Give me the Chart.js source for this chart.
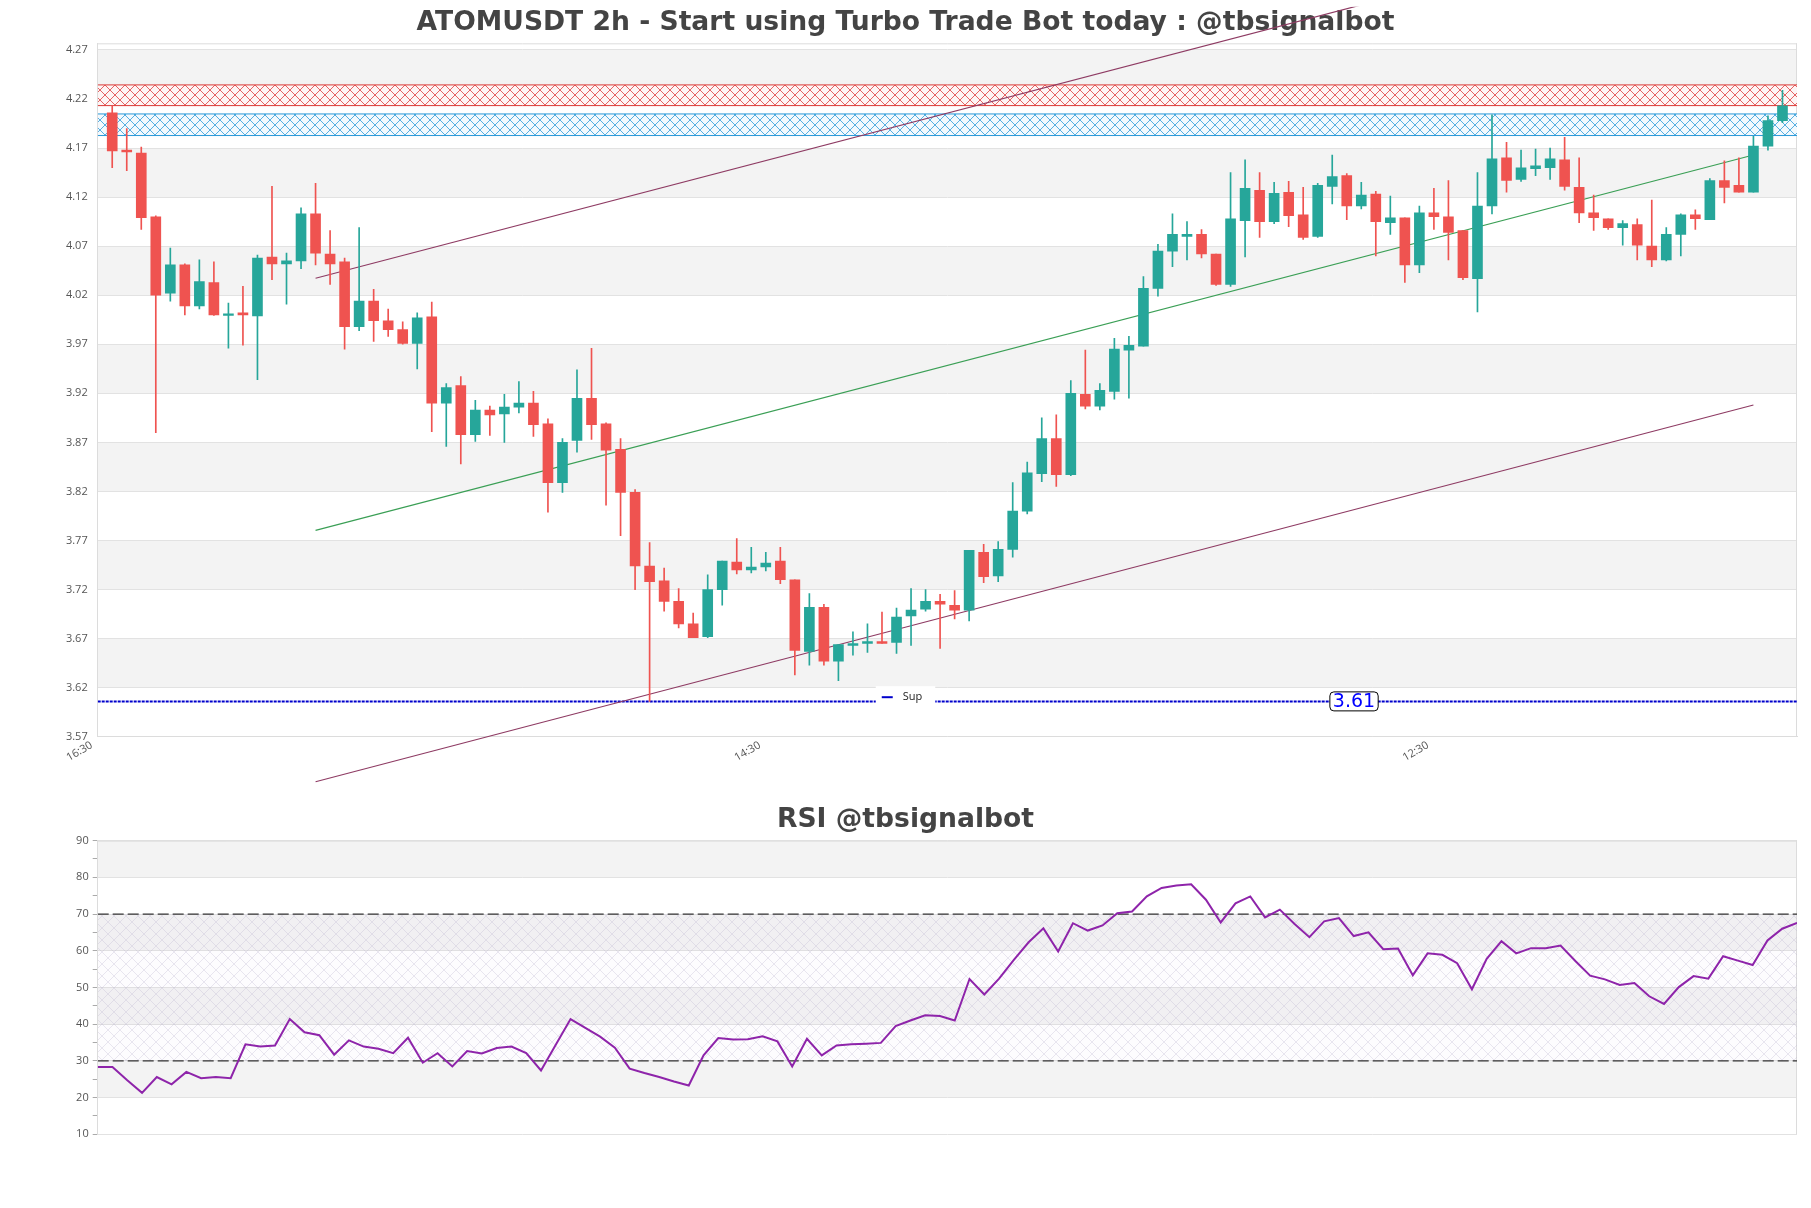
<!DOCTYPE html>
<html>
<head>
<meta charset="utf-8">
<script src="https://cdn.jsdelivr.net/npm/chart.js@4.4.1/dist/chart.umd.min.js"></script>
<style>
  html, body { margin: 0; padding: 0; background: #ffffff; width: 1811px; height: 1208px; overflow: hidden; }
  #main { position: absolute; left: 0; top: 0; }
  #rsi { position: absolute; left: 0; top: 790px; }
</style>
</head>
<body>
<canvas id="main" width="1811" height="790"></canvas>
<canvas id="rsi" width="1811" height="418"></canvas>
<script>
// ---------------- DATA ----------------
const candleOpen = [
  4.206, 4.168, 4.165, 4.100, 4.022, 4.051, 4.009, 4.033, 3.9995, 4.002,
  3.999, 4.059, 4.052, 4.055, 4.103, 4.062, 4.054, 3.988, 4.014, 3.994,
  3.985, 3.971, 3.998, 3.910, 3.928, 3.878, 3.903, 3.899, 3.906, 3.910,
  3.889, 3.829, 3.872, 3.915, 3.889, 3.863, 3.819, 3.744, 3.729, 3.708,
  3.685, 3.672, 3.720, 3.748, 3.740, 3.743, 3.749, 3.730, 3.657, 3.702,
  3.647, 3.663, 3.665, 3.667, 3.666, 3.693, 3.700, 3.708, 3.704, 3.699,
  3.758, 3.734, 3.761, 3.800, 3.838, 3.874, 3.837, 3.919, 3.907, 3.922,
  3.964, 3.968, 4.027, 4.065, 4.080, 4.082, 4.062, 4.031, 4.096, 4.127,
  4.095, 4.125, 4.102, 4.080, 4.131, 4.142, 4.111, 4.123, 4.094, 4.099,
  4.051, 4.104, 4.100, 4.086, 4.037, 4.111, 4.160, 4.138, 4.149, 4.150,
  4.158, 4.130, 4.104, 4.098, 4.089, 4.092, 4.070, 4.056, 4.082, 4.102,
  4.097, 4.137, 4.132, 4.125, 4.172, 4.198
];
const candleHigh = [
  4.213, 4.190, 4.171, 4.101, 4.068, 4.052, 4.056, 4.054, 4.012, 4.029,
  4.061, 4.131, 4.063, 4.109, 4.134, 4.086, 4.058, 4.089, 4.026, 4.006,
  3.993, 4.002, 4.013, 3.930, 3.937, 3.913, 3.907, 3.919, 3.932, 3.922,
  3.894, 3.874, 3.944, 3.966, 3.890, 3.874, 3.822, 3.768, 3.742, 3.721,
  3.696, 3.735, 3.749, 3.772, 3.763, 3.758, 3.763, 3.730, 3.716, 3.705,
  3.664, 3.677, 3.685, 3.697, 3.701, 3.721, 3.720, 3.715, 3.719, 3.760,
  3.766, 3.769, 3.829, 3.850, 3.895, 3.898, 3.933, 3.964, 3.930, 3.976,
  3.978, 4.039, 4.072, 4.103, 4.095, 4.087, 4.062, 4.145, 4.158, 4.145,
  4.135, 4.136, 4.130, 4.134, 4.163, 4.144, 4.135, 4.126, 4.121, 4.099,
  4.111, 4.129, 4.137, 4.086, 4.145, 4.204, 4.176, 4.168, 4.169, 4.170,
  4.181, 4.160, 4.122, 4.098, 4.096, 4.098, 4.117, 4.089, 4.103, 4.107,
  4.139, 4.157, 4.160, 4.182, 4.203, 4.229
];
const candleLow = [
  4.150, 4.147, 4.087, 3.880, 4.014, 4.000, 4.006, 3.9995, 3.966, 3.969,
  3.934, 4.036, 4.011, 4.047, 4.051, 4.031, 3.965, 3.984, 3.973, 3.978,
  3.970, 3.945, 3.881, 3.866, 3.848, 3.871, 3.877, 3.870, 3.900, 3.876,
  3.799, 3.819, 3.860, 3.873, 3.806, 3.775, 3.720, 3.606, 3.698, 3.681,
  3.671, 3.671, 3.704, 3.736, 3.737, 3.739, 3.726, 3.633, 3.643, 3.643,
  3.627, 3.653, 3.656, 3.665, 3.655, 3.663, 3.698, 3.660, 3.690, 3.688,
  3.727, 3.728, 3.753, 3.797, 3.830, 3.825, 3.836, 3.904, 3.903, 3.914,
  3.915, 3.968, 4.019, 4.049, 4.056, 4.058, 4.030, 4.029, 4.059, 4.079,
  4.093, 4.090, 4.077, 4.079, 4.113, 4.097, 4.108, 4.060, 4.082, 4.033,
  4.043, 4.087, 4.056, 4.036, 4.003, 4.103, 4.125, 4.136, 4.142, 4.138,
  4.127, 4.094, 4.086, 4.087, 4.071, 4.056, 4.049, 4.055, 4.060, 4.087,
  4.097, 4.114, 4.125, 4.125, 4.168, 4.196
];
const candleClose = [
  4.167, 4.166, 4.099, 4.020, 4.051, 4.009, 4.034, 4.000, 4.001, 4.000,
  4.058, 4.052, 4.055, 4.103, 4.063, 4.052, 3.988, 4.014, 3.994, 3.985,
  3.971, 3.997, 3.910, 3.926, 3.878, 3.903, 3.898, 3.906, 3.910, 3.888,
  3.829, 3.870, 3.915, 3.888, 3.862, 3.819, 3.744, 3.728, 3.708, 3.685,
  3.671, 3.720, 3.749, 3.740, 3.743, 3.747, 3.730, 3.658, 3.702, 3.647,
  3.664, 3.665, 3.667, 3.665, 3.692, 3.699, 3.708, 3.705, 3.699, 3.760,
  3.733, 3.761, 3.800, 3.839, 3.874, 3.837, 3.920, 3.907, 3.923, 3.965,
  3.969, 4.027, 4.065, 4.082, 4.082, 4.062, 4.031, 4.098, 4.129, 4.095,
  4.124, 4.101, 4.079, 4.132, 4.141, 4.111, 4.122, 4.095, 4.099, 4.051,
  4.104, 4.100, 4.084, 4.038, 4.111, 4.159, 4.137, 4.150, 4.152, 4.159,
  4.131, 4.104, 4.099, 4.089, 4.093, 4.071, 4.056, 4.082, 4.102, 4.098,
  4.137, 4.130, 4.125, 4.172, 4.198, 4.213
];
const timeTickIndex = [-1, 45, 91];
const timeTickLabels = ['16:30', '14:30', '12:30'];
const priceTicks = [3.57, 3.62, 3.67, 3.72, 3.77, 3.82, 3.87, 3.92, 3.97, 4.02, 4.07, 4.12, 4.17, 4.22, 4.27];
const priceMin = 3.57;
const priceMax = 4.2768;
const resistanceZone = [4.2133, 4.2344];
const supplyZone = [4.1828, 4.2048];
const supportLevel = 3.606;
const supportLabelAt = 85.5;
const channelX = [14, 113];
const channelUpper = [4.0373, 4.4204];
const channelMid = [3.7804, 4.1630];
const channelLower = [3.5241, 3.9081];

const rsiValues = [
  28.3, 28.3, 24.7, 21.3, 25.6, 23.6, 27.0, 25.3, 25.6, 25.3,
  34.5, 33.9, 34.2, 41.4, 37.8, 37.0, 31.7, 35.6, 33.9, 33.3,
  32.1, 36.3, 29.5, 32.1, 28.5, 32.7, 32.0, 33.5, 33.9, 32.1,
  27.4, 34.4, 41.4, 39.0, 36.6, 33.6, 27.9, 26.7, 25.6, 24.4,
  23.3, 31.5, 36.2, 35.8, 35.9, 36.7, 35.3, 28.5, 36.0, 31.5,
  34.2, 34.5, 34.7, 34.9, 39.5, 41.0, 42.4, 42.2, 41.0, 52.3,
  48.1, 52.4, 57.5, 62.3, 66.1, 59.8, 67.5, 65.5, 66.9, 70.2,
  70.7, 74.8, 77.1, 77.8, 78.1, 73.9, 67.7, 72.9, 74.8, 69.1,
  71.2, 67.3, 63.7, 68.0, 68.9, 64.0, 65.0, 60.4, 60.6, 53.3,
  59.3, 58.9, 56.6, 49.5, 57.8, 62.6, 59.3, 60.7, 60.7, 61.4,
  57.2, 53.2, 52.2, 50.7, 51.2, 47.6, 45.5, 50.1, 53.1, 52.4,
  58.5, 57.3, 56.1, 62.8, 66.0, 67.6
];
const rsiUpper = 70;
const rsiLower = 30;
const rsiTicks = [10, 20, 30, 40, 50, 60, 70, 80, 90];

// ---------------- STYLE HELPERS ----------------
Chart.defaults.font.family = "'Open Sans', 'DejaVu Sans', sans-serif";
Chart.defaults.color = '#555';
const TITLE_FONT = { size: 26.6, weight: 'bold', family: "'DejaVu Sans', sans-serif" };

const GREEN = '#26a69a';
const RED = '#ef5350';

function hatch(lineColor, bg, size) {
  const c = document.createElement('canvas');
  c.width = size; c.height = size;
  const g = c.getContext('2d');
  if (bg) { g.fillStyle = bg; g.fillRect(0, 0, size, size); }
  g.strokeStyle = lineColor;
  g.lineWidth = 1;
  g.beginPath();
  g.moveTo(0, 0); g.lineTo(size, size);
  g.moveTo(size, 0); g.lineTo(0, size);
  g.stroke();
  return g.createPattern(c, 'repeat');
}

function bandPlugin(ticksArr) {
  return {
    id: 'bands',
    beforeDraw(chart) {
      const { ctx, chartArea } = chart;
      const y = chart.scales.y;
      const sorted = ticksArr.slice().sort((a, b) => b - a);
      ctx.save();
      ctx.fillStyle = '#f3f3f3';
      for (let k = 0; k < sorted.length - 1; k++) {
        if (k % 2 === 0) {
          const y1 = y.getPixelForValue(sorted[k]);
          const y2 = y.getPixelForValue(sorted[k + 1]);
          ctx.fillRect(chartArea.left, y1, chartArea.right - chartArea.left, y2 - y1);
        }
      }
      ctx.restore();
    },
    beforeDatasetsDraw(chart) {
      const { ctx, chartArea } = chart;
      ctx.save();
      ctx.strokeStyle = '#dcdcdc';
      ctx.lineWidth = 1;
      ctx.beginPath();
      ctx.moveTo(chartArea.left, chartArea.top + 0.5);
      ctx.lineTo(chartArea.right, chartArea.top + 0.5);
      ctx.moveTo(chartArea.right - 0.5, chartArea.top);
      ctx.lineTo(chartArea.right - 0.5, chartArea.bottom);
      ctx.stroke();
      ctx.restore();
    }
  };
}

const overlayPlugin = {
  id: 'overlays',
  afterDatasetsDraw(chart) {
    const { ctx, chartArea } = chart;
    const xs = chart.scales.x, ys = chart.scales.y;
    // support value label
    const lx = xs.getPixelForValue(supportLabelAt);
    const ly = ys.getPixelForValue(supportLevel);
    const txt = supportLevel.toFixed(2);
    ctx.save();
    ctx.font = "19px 'DejaVu Sans', sans-serif";
    const tw = ctx.measureText(txt).width;
    const bw = tw + 6, bh = 19;
    ctx.beginPath();
    ctx.roundRect(lx - bw / 2, ly - bh / 2, bw, bh, 4);
    ctx.fillStyle = '#ffffff';
    ctx.fill();
    ctx.strokeStyle = '#000000';
    ctx.lineWidth = 1;
    ctx.stroke();
    ctx.fillStyle = '#0000ff';
    ctx.textAlign = 'center';
    ctx.textBaseline = 'middle';
    ctx.fillText(txt, lx, ly + 1);
    // legend box "Sup"
    const ds = chart.data.datasets.find(d => d.label === 'Sup');
    const cx = chart.width / 2;
    const cy = chartArea.bottom - 39.5;
    ctx.font = "11px 'Open Sans', sans-serif";
    const lw = ctx.measureText(ds.label).width;
    const boxW = 10 + 11 + 10 + lw + 9;
    ctx.fillStyle = '#ffffff';
    ctx.fillRect(cx - boxW / 2, cy - 11, boxW, 22);
    const x0 = cx - boxW / 2 + 6;
    ctx.strokeStyle = ds.borderColor;
    ctx.lineWidth = 2;
    ctx.beginPath();
    ctx.moveTo(x0, cy); ctx.lineTo(x0 + 11, cy);
    ctx.stroke();
    ctx.fillStyle = '#222';
    ctx.textAlign = 'left';
    ctx.fillText(ds.label, x0 + 21, cy);
    ctx.restore();
  }
};

// ---------------- MAIN CHART ----------------
const idx = candleOpen.map((_, i) => i);
const candleColors = idx.map(i => candleClose[i] >= candleOpen[i] ? GREEN : RED);
const spanX = [-1, candleOpen.length];
const trendClip = { left: 0, right: 0, top: 36.6, bottom: 60 };

new Chart(document.getElementById('main'), {
  type: 'line',
  data: {
    datasets: [
      {
        type: 'line', label: 'resTop',
        data: spanX.map(x => ({ x, y: resistanceZone[1] })),
        borderColor: '#dc3a36', borderWidth: 1, pointRadius: 0, fill: false, order: 8
      },
      {
        type: 'line', label: 'resBottom',
        data: spanX.map(x => ({ x, y: resistanceZone[0] })),
        borderColor: '#dc3a36', borderWidth: 1, pointRadius: 0,
        fill: '-1', backgroundColor: hatch('rgba(220,50,50,0.75)', '#fdf5f5', 10), order: 8
      },
      {
        type: 'line', label: 'supTop',
        data: spanX.map(x => ({ x, y: supplyZone[1] })),
        borderColor: '#2a98d8', borderWidth: 1, pointRadius: 0, fill: false, order: 8
      },
      {
        type: 'line', label: 'supBottom',
        data: spanX.map(x => ({ x, y: supplyZone[0] })),
        borderColor: '#2a98d8', borderWidth: 1, pointRadius: 0,
        fill: '-1', backgroundColor: hatch('rgba(35,150,215,0.75)', '#f3f9fd', 10), order: 8
      },
      {
        type: 'line', label: 'Sup',
        data: spanX.map(x => ({ x, y: supportLevel })),
        borderColor: '#0000cc', borderWidth: 2, borderDash: [3, 1], pointRadius: 0, fill: false, order: 7
      },
      {
        type: 'line', label: 'upper',
        data: channelX.map((x, k) => ({ x, y: channelUpper[k] })),
        borderColor: '#8e3b63', borderWidth: 1.2, pointRadius: 0, fill: false, clip: trendClip, order: 5
      },
      {
        type: 'line', label: 'mid',
        data: channelX.map((x, k) => ({ x, y: channelMid[k] })),
        borderColor: '#3a9f55', borderWidth: 1.2, pointRadius: 0, fill: false, clip: trendClip, order: 5
      },
      {
        type: 'line', label: 'lower',
        data: channelX.map((x, k) => ({ x, y: channelLower[k] })),
        borderColor: '#8e3b63', borderWidth: 1.2, pointRadius: 0, fill: false, clip: trendClip, order: 5
      },
      {
        type: 'bar', label: 'wick',
        data: idx.map(i => ({ x: i, y: [candleLow[i], candleHigh[i]] })),
        backgroundColor: candleColors, barThickness: 1, grouped: false, order: 2
      },
      {
        type: 'bar', label: 'body',
        data: idx.map(i => ({ x: i, y: [candleOpen[i], candleClose[i]] })),
        backgroundColor: candleColors, barThickness: 10, grouped: false, order: 1
      }
    ]
  },
  options: {
    responsive: false,
    animation: false,
    layout: { padding: { left: 14, right: 14, top: 0, bottom: 0 } },
    plugins: {
      legend: { display: false },
      tooltip: { enabled: false },
      title: {
        display: true,
        text: 'ATOMUSDT 2h - Start using Turbo Trade Bot today : @tbsignalbot',
        color: '#444',
        font: TITLE_FONT,
        padding: { top: 7.3, bottom: 4.1 }
      }
    },
    scales: {
      x: {
        type: 'linear',
        min: spanX[0], max: spanX[1],
        offset: false,
        grid: { display: false, offset: false },
        border: { display: true, color: '#dcdcdc' },
        afterBuildTicks: s => { s.ticks = timeTickIndex.map(v => ({ value: v })); },
        afterFit: s => { s.height = 53.3; },
        ticks: {
          autoSkip: false, minRotation: 30, maxRotation: 30, padding: -6, labelOffset: -6,
          color: '#555', font: { size: 11 },
          callback: v => { const k = timeTickIndex.indexOf(v); return k >= 0 ? timeTickLabels[k] : ''; }
        }
      },
      y: {
        type: 'linear',
        min: priceMin, max: priceMax,
        grid: { color: '#e2e2e2', drawTicks: false },
        border: { display: true, color: '#dcdcdc' },
        afterBuildTicks: s => { s.ticks = priceTicks.map(v => ({ value: v })); },
        afterFit: s => { s.width = 83.7; },
        ticks: { padding: 10, color: '#555', font: { size: 11 }, callback: v => Number(v).toFixed(2) }
      }
    }
  },
  plugins: [bandPlugin(priceTicks), overlayPlugin]
});

// ---------------- RSI CHART ----------------
const rsiIdx = rsiValues.map((_, j) => j);
const rsiSpan = [0, rsiValues.length - 1];

new Chart(document.getElementById('rsi'), {
  type: 'line',
  data: {
    datasets: [
      {
        label: 'upperLevel',
        data: rsiSpan.map(x => ({ x, y: rsiUpper })),
        borderColor: '#333', borderWidth: 1.3, borderDash: [11, 4], pointRadius: 0, fill: false, order: 3
      },
      {
        label: 'lowerLevel',
        data: rsiSpan.map(x => ({ x, y: rsiLower })),
        borderColor: '#333', borderWidth: 1.3, borderDash: [11, 4], pointRadius: 0,
        fill: '-1', backgroundColor: hatch('rgba(185,175,205,0.3)', 'rgba(170,140,210,0.025)', 12), order: 3
      },
      {
        label: 'RSI',
        data: rsiIdx.map(j => ({ x: j, y: rsiValues[j] })),
        borderColor: '#8e24aa', borderWidth: 2, pointRadius: 0, fill: false, tension: 0, order: 1
      }
    ]
  },
  options: {
    responsive: false,
    animation: false,
    layout: { padding: { left: 14, right: 14, top: 0, bottom: 73.7 } },
    plugins: {
      legend: { display: false },
      tooltip: { enabled: false },
      title: {
        display: true,
        text: 'RSI @tbsignalbot',
        color: '#444',
        font: TITLE_FONT,
        padding: { top: 14.3, bottom: 4.4 }
      }
    },
    scales: {
      x: { type: 'linear', min: rsiSpan[0], max: rsiSpan[1], display: false },
      y: {
        type: 'linear', min: 10, max: 90,
        grid: {
          color: c => (c.tick && c.tick.value % 10 === 0) ? '#e2e2e2' : 'rgba(0,0,0,0)',
          tickColor: '#aaa', tickLength: 5, drawTicks: true
        },
        border: { display: true, color: '#dcdcdc' },
        afterFit: s => { s.width = 83.7; },
        ticks: {
          stepSize: 5, padding: 4, color: '#555', font: { size: 11 },
          callback: v => (v % 10 === 0 ? String(v) : '')
        }
      }
    }
  },
  plugins: [bandPlugin(rsiTicks)]
});
</script>
</body>
</html>
